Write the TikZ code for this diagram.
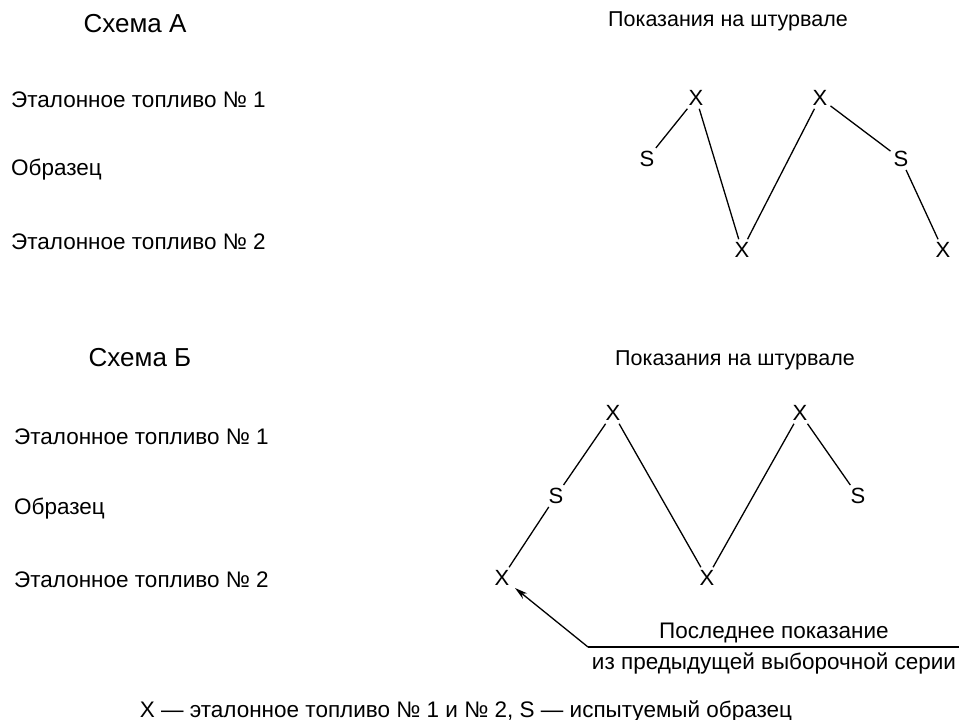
\documentclass[tikz,border=0pt]{standalone}
\usepackage{fontspec}
\setmainfont{Liberation Sans}
\usetikzlibrary{arrows.meta}
\begin{document}
\begin{tikzpicture}[x=1pt,y=-1pt,
  txt/.style={font=\fontsize{22.5}{24}\selectfont, inner sep=0pt},
  hdr/.style={font=\fontsize{21.5}{24}\selectfont, inner sep=0pt},
  ttl/.style={font=\fontsize{26}{28}\selectfont, inner sep=0pt},
  pt/.style={font=\fontsize{22}{24}\selectfont, inner sep=3pt},
  ln/.style={line width=1.3pt},
  lbl/.style={txt, anchor=west}]
\useasboundingbox (0,0) rectangle (959,720);
% Scheme A
\node[ttl] (ta) at (135,24) {Схема А};
\node[hdr] (ra) at (728,21) {Показания на штурвале};
\node[lbl] (a1) at (11,100) {Эталонное топливо № 1};
\node[lbl] (a2) at (11,170) {Образец};
\node[lbl] (a3) at (11,242) {Эталонное топливо № 2};
\node[pt] (as1) at (647,159) {S};
\node[pt] (ax1) at (696,98) {X};
\node[pt] (ax2) at (742,250) {X};
\node[pt] (ax3) at (820,98) {X};
\node[pt] (as2) at (901,159) {S};
\node[pt] (ax4) at (943,250) {X};
\draw[ln] (as1) -- (ax1);
\draw[ln] (ax1) -- (ax2);
\draw[ln] (ax2) -- (ax3);
\draw[ln] (ax3) -- (as2);
\draw[ln] (as2) -- (ax4);
% Scheme B
\node[ttl] (tb) at (140,358) {Схема Б};
\node[hdr] (rb) at (735,360) {Показания на штурвале};
\node[lbl] (b1) at (14,437) {Эталонное топливо № 1};
\node[lbl] (b2) at (14,509) {Образец};
\node[lbl] (b3) at (14,580) {Эталонное топливо № 2};
\node[pt] (bx0) at (502,578) {X};
\node[pt] (bs1) at (556,496) {S};
\node[pt] (bx1) at (613,413) {X};
\node[pt] (bx2) at (707,578) {X};
\node[pt] (bx3) at (800,413) {X};
\node[pt] (bs2) at (858,496) {S};
\draw[ln] (bx0) -- (bs1);
\draw[ln] (bs1) -- (bx1);
\draw[ln] (bx1) -- (bx2);
\draw[ln] (bx2) -- (bx3);
\draw[ln] (bx3) -- (bs2);
% annotation
\coordinate (ak) at (588,647);
\coordinate (ae) at (959,647);
\coordinate (at) at (515,588);
\node[txt] (n1) at (774,633) {Последнее показание};
\node[txt] (n2) at (774,663) {из предыдущей выборочной серии};
\draw[ln] (ae) -- (ak);
\draw[ln,-{Stealth[length=13pt,width=7pt]}] (ak) -- (at);
% caption
\node[txt] (cap) at (466,711) {X — эталонное топливо № 1 и № 2, S — испытуемый образец};
\end{tikzpicture}
\end{document}
